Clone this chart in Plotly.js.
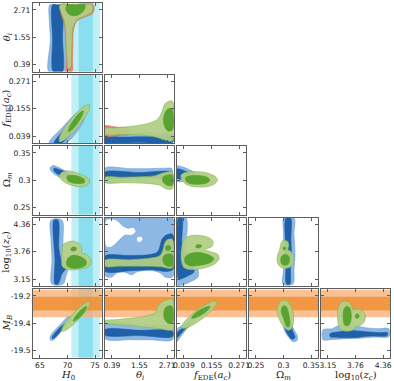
<!DOCTYPE html>
<html>
<head>
<meta charset="utf-8">
<script src="https://cdn.plot.ly/plotly-3.0.1.min.js"></script>
<style>
html, body { margin: 0; padding: 0; background: #fff; }
#corner { width: 394px; height: 381px; }
</style>
</head>
<body>
<div id="corner"></div>
<script>
// parameter ranges and ticks (ticks sit at 10%, 50%, 90% of each range)
var h0Range = [63.75, 76.25], h0Ticks = [65, 70, 75], h0Labels = ['65', '70', '75'];
var thetaRange = [0.1, 3.0], thetaTicks = [0.39, 1.55, 2.71], thetaLabels = ['0.39', '1.55', '2.71'];
var fedeRange = [0.01, 0.30], fedeTicks = [0.039, 0.155, 0.271], fedeLabels = ['0.039', '0.155', '0.271'];
var omRange = [0.2375, 0.3625], omTicks = [0.25, 0.3, 0.35], omLabels = ['0.25', '0.3', '0.35'];
var zcRange = [3.0, 4.51], zcTicks = [3.151, 3.755, 4.359], zcLabels = ['3.15', '3.76', '4.36'];
var mbRange = [-19.55, -19.15], mbTicks = [-19.51, -19.35, -19.19], mbLabels = ['-19.5', '-19.4', '-19.2'];

// external priors (SH0ES-like bands)
var h0Prior = [73.3, 1.3];
var mbPrior = [-19.235, 0.04];

// contour outlines, [x, y] in data units; b = blue, r = red, g = green; 2 = outer, 1 = inner
var h0_th_b2 = [[66.8,2.92],[68.2,2.92],[69.7,2.92],[69.9,1.86],[69.9,0.1],[68.2,0.1],[66.6,0.1],[66.9,1.44],[66.7,2.28]];
var h0_th_b1 = [[67.3,2.92],[68.2,2.92],[69.0,2.92],[69.1,1.5],[69.1,0.1],[68.2,0.1],[67.4,0.1],[67.3,1.5]];
var h0_th_r2 = [[68.64,2.92],[71.5,2.92],[74.71,2.92],[74.62,2.58],[73.17,2.41],[71.72,2.24],[71.09,1.86],[70.97,1.23],[70.91,0.6],[70.82,0.1],[69.91,0.1],[69.82,0.6],[69.64,1.44],[69.46,2.07],[68.82,2.54]];
var h0_th_g2 = [[68.64,2.92],[71.5,2.92],[74.44,2.92],[74.44,2.62],[73.17,2.45],[71.72,2.28],[70.97,1.95],[70.82,1.44],[70.73,0.81],[70.64,0.35],[70.45,0.23],[70.09,0.23],[69.91,0.6],[69.73,1.23],[69.64,1.86],[69.37,2.28],[68.82,2.62]];
var h0_th_g1 = [[69.91,2.92],[71.5,2.92],[73.17,2.92],[72.99,2.70],[71.9,2.49],[70.45,2.49],[69.73,2.70]];

var h0_fe_b2 = [[66.65,0.01],[69.73,0.01],[73.0,0.108],[73.17,0.151],[71.9,0.142],[69.0,0.074],[67.19,0.031]];
var h0_fe_b1 = [[67.55,0.01],[69.0,0.01],[71.36,0.087],[70.45,0.087],[68.1,0.031]];
var h0_fe_g2 = [[68.52,0.0155],[69.29,0.0202],[70.49,0.0428],[71.94,0.0803],[73.21,0.121],[73.92,0.153],[73.95,0.172],[73.17,0.168],[71.98,0.145],[70.53,0.108],[69.26,0.0667],[68.55,0.0347]];
var h0_fe_g1 = [[70.15,0.058],[71.14,0.074],[71.87,0.0956],[72.5,0.119],[72.86,0.146],[71.87,0.130],[71.14,0.108],[70.51,0.085]];

var h0_om_b2 = [[66.83,0.322],[67.37,0.327],[68.28,0.324],[69.37,0.318],[70.45,0.315],[71.36,0.309],[71.18,0.300],[69.73,0.302],[68.28,0.307],[67.19,0.315]];
var h0_om_b1 = [[67.55,0.322],[68.64,0.319],[69.73,0.315],[70.45,0.309],[69.55,0.306],[68.28,0.311],[67.55,0.317]];
var h0_om_g2 = [[68.55,0.309],[69.0,0.3148],[70.09,0.317],[71.54,0.314],[72.99,0.308],[73.9,0.302],[73.99,0.295],[73.53,0.291],[72.45,0.288],[71.0,0.290],[69.73,0.295],[68.82,0.302]];
var h0_om_g1 = [[69.91,0.307],[70.82,0.309],[72.09,0.307],[72.99,0.302],[73.08,0.296],[72.27,0.294],[71.0,0.295],[70.09,0.299]];

var h0_zc_b2 = [[67.01,4.45],[69.0,4.45],[69.19,4.028],[69.19,3.693],[69.73,3.536],[70.09,3.402],[69.73,3.224],[69.19,3.045],[67.19,3.045],[67.19,3.581],[67.01,4.028]];
var h0_zc_b1 = [[67.55,4.45],[68.28,4.45],[68.46,3.805],[69.0,3.536],[69.73,3.402],[69.0,3.268],[68.28,3.045],[67.74,3.045],[67.74,3.581]];
var h0_zc_g2 = [[69.24,3.916],[71.05,3.990],[72.57,3.878],[72.57,3.738],[73.48,3.693],[74.26,3.565],[73.95,3.431],[72.27,3.373],[70.15,3.358],[69.06,3.431],[68.95,3.655],[69.06,3.843]];
var h0_zc_g1 = [[69.91,3.581],[70.82,3.671],[72.27,3.648],[73.35,3.559],[73.35,3.469],[72.27,3.402],[70.82,3.391],[69.91,3.447]];
var h0_zc_g1b = [[70.64,3.827],[71.0,3.860],[71.54,3.849],[71.54,3.793],[71.0,3.771],[70.64,3.793]];

var h0_mb_b2 = [[66.83,-19.446],[67.01,-19.417],[67.92,-19.382],[69.0,-19.347],[70.09,-19.312],[70.82,-19.318],[69.73,-19.364],[68.64,-19.405],[67.74,-19.440],[67.19,-19.451]];
var h0_mb_b1 = [[67.19,-19.434],[67.92,-19.399],[69.0,-19.364],[69.73,-19.353],[69.0,-19.388],[68.1,-19.422],[67.37,-19.440]];
var h0_mb_g2 = [[68.95,-19.397],[69.6,-19.393],[70.69,-19.368],[72.04,-19.326],[73.24,-19.281],[73.97,-19.245],[74.08,-19.223],[73.43,-19.228],[72.34,-19.253],[70.99,-19.294],[69.78,-19.340],[69.06,-19.376]];
var h0_mb_g1 = [[71.05,-19.339],[71.89,-19.324],[72.54,-19.304],[73.11,-19.281],[73.48,-19.252],[72.64,-19.267],[71.99,-19.288],[71.42,-19.311]];

var th_fe_b2 = [[0.1,0.053],[0.8,0.054],[1.57,0.053],[2.3,0.051],[2.94,0.049],[2.94,0.011],[1.5,0.011],[0.1,0.011]];
var th_fe_b1 = [[0.1,0.034],[0.8,0.035],[1.57,0.036],[2.3,0.038],[2.94,0.040],[2.94,0.013],[1.5,0.012],[0.1,0.013]];
var th_fe_r2 = [[0.1,0.0824],[0.394,0.0803],[0.73,0.076],[1.1,0.074],[1.1,0.046],[0.73,0.042],[0.394,0.0377],[0.1,0.0377]];
var th_fe_g2 = [[0.1,0.0718],[0.52,0.0739],[1.36,0.0824],[1.99,0.0952],[2.326,0.112],[2.494,0.142],[2.62,0.176],[2.788,0.187],[2.935,0.187],[2.935,0.0185],[2.62,0.0228],[2.2,0.0356],[1.57,0.0441],[0.73,0.0462],[0.1,0.0462]];
var th_fe_g1 = [[2.578,0.125],[2.704,0.1506],[2.872,0.157],[2.935,0.1506],[2.935,0.0654],[2.746,0.0611],[2.599,0.0824],[2.557,0.1037]];

var th_om_b2 = [[0.1,0.322],[1.15,0.3212],[1.99,0.3212],[2.62,0.322],[2.914,0.3212],[2.914,0.3111],[2.41,0.3074],[1.57,0.3019],[0.73,0.2982],[0.1,0.2964]];
var th_om_b1 = [[0.1,0.3148],[1.57,0.314],[2.914,0.3148],[2.914,0.3056],[1.57,0.3056],[0.1,0.3047]];
var th_om_g2 = [[0.1,0.3056],[0.73,0.3056],[1.57,0.3065],[2.2,0.3083],[2.494,0.3129],[2.746,0.3157],[2.927,0.3157],[2.927,0.2844],[2.662,0.2844],[2.41,0.2909],[1.78,0.2945],[0.94,0.2955],[0.1,0.2964]];
var th_om_g1 = [[2.536,0.3056],[2.704,0.3093],[2.927,0.3093],[2.927,0.2909],[2.704,0.2909],[2.536,0.2973]];

var fe_om_b2 = [[0.01,0.3258],[0.0352,0.324],[0.0646,0.3185],[0.0898,0.3111],[0.0772,0.2982],[0.0436,0.2982],[0.01,0.2982]];
var fe_om_b1 = [[0.01,0.3203],[0.0394,0.3175],[0.0646,0.3111],[0.0478,0.3037],[0.01,0.3037]];
var fe_om_g2 = [[0.0268,0.3093],[0.0436,0.314],[0.0772,0.3157],[0.1192,0.3148],[0.1528,0.3111],[0.1738,0.3056],[0.1801,0.3001],[0.1654,0.2927],[0.1318,0.2881],[0.0856,0.2881],[0.052,0.2918],[0.031,0.3001]];
var fe_om_g1 = [[0.0478,0.3056],[0.0688,0.3083],[0.1066,0.3083],[0.136,0.3056],[0.1486,0.3001],[0.1318,0.2945],[0.094,0.2927],[0.0604,0.2945],[0.0457,0.3001]];

var th_zc_b2 = [[0.1,4.5],[1.5,4.5],[2.935,4.5],[2.935,3.201],[2.62,3.201],[2.41,3.291],[1.99,3.346],[1.444,3.313],[1.234,3.246],[0.94,3.302],[0.604,3.291],[0.394,3.201],[0.1,3.224]];
var th_zc_w1 = [[0.142,4.453],[0.436,4.475],[0.646,4.430],[0.814,4.341],[1.066,4.274],[1.276,4.296],[1.402,4.207],[1.234,4.118],[0.94,4.118],[0.73,4.028],[0.52,3.916],[0.31,3.849],[0.142,3.872]];
var th_zc_w2 = [[1.444,4.073],[1.612,4.095],[1.696,4.028],[1.57,3.961],[1.444,3.983]];
var th_zc_b1 = [[0.1,3.659],[1.15,3.671],[1.99,3.693],[2.326,3.760],[2.494,4.028],[2.662,4.118],[2.935,4.140],[2.935,3.358],[1.99,3.358],[1.15,3.335],[0.1,3.324]];
var th_zc_g2 = [[0.1,3.570],[1.15,3.581],[1.99,3.615],[2.41,3.671],[2.536,3.805],[2.62,3.961],[2.746,4.028],[2.935,4.028],[2.935,3.402],[2.41,3.425],[1.57,3.436],[0.73,3.436],[0.1,3.436]];
var th_zc_g1 = [[2.536,3.626],[2.662,3.693],[2.83,3.704],[2.935,3.693],[2.935,3.447],[2.746,3.436],[2.578,3.492]];
var th_zc_g1b = [[2.662,3.872],[2.788,3.894],[2.872,3.849],[2.788,3.782],[2.662,3.793]];

var fe_zc_b2 = [[0.01,4.5],[0.0478,4.5],[0.0499,4.028],[0.0478,3.805],[0.073,3.536],[0.0982,3.358],[0.0982,3.201],[0.0646,3.089],[0.031,3.022],[0.01,3.022]];
var fe_zc_b1 = [[0.0163,4.5],[0.031,4.5],[0.031,3.916],[0.0478,3.671],[0.073,3.469],[0.0814,3.313],[0.0562,3.224],[0.0268,3.156],[0.0163,3.156]];
var fe_zc_g2 = [[0.031,3.894],[0.0394,4.028],[0.0646,4.106],[0.0982,4.118],[0.1402,4.073],[0.1612,3.983],[0.157,3.872],[0.1276,3.805],[0.1486,3.760],[0.1822,3.693],[0.1864,3.603],[0.1696,3.492],[0.1276,3.402],[0.073,3.358],[0.0394,3.402],[0.0289,3.536],[0.0268,3.715]];
var fe_zc_g1 = [[0.0436,3.626],[0.0646,3.715],[0.1066,3.738],[0.1486,3.671],[0.1654,3.603],[0.1486,3.514],[0.1066,3.458],[0.0646,3.447],[0.0436,3.514]];
var fe_zc_g1b = [[0.0898,3.894],[0.1024,3.916],[0.115,3.883],[0.1024,3.838],[0.0898,3.849]];

var om_zc_b2 = [[0.3009,4.5],[0.319,4.5],[0.319,4.140],[0.3208,3.693],[0.319,3.358],[0.3171,3.045],[0.2991,3.045],[0.30,3.358],[0.2991,3.805],[0.30,4.140]];
var om_zc_b1 = [[0.3045,4.5],[0.3127,4.5],[0.3135,4.028],[0.3144,3.693],[0.3127,3.358],[0.3117,3.045],[0.3054,3.045],[0.3045,3.469],[0.3036,3.916]];
var om_zc_g2 = [[0.2945,3.894],[0.2972,3.983],[0.3027,4.006],[0.3081,3.972],[0.3099,3.894],[0.3081,3.805],[0.3135,3.760],[0.318,3.648],[0.318,3.514],[0.3135,3.425],[0.3045,3.391],[0.2954,3.413],[0.2891,3.514],[0.2891,3.671],[0.2927,3.782]];
var om_zc_g1 = [[0.2954,3.626],[0.2991,3.682],[0.3045,3.693],[0.3099,3.648],[0.3108,3.559],[0.3081,3.481],[0.3027,3.458],[0.2972,3.481],[0.2951,3.547]];
var om_zc_g1b = [[0.2991,3.838],[0.3018,3.860],[0.3045,3.838],[0.3027,3.798],[0.30,3.805]];

var th_mb_b2 = [[0.1,-19.353],[0.73,-19.347],[1.57,-19.359],[2.41,-19.364],[2.935,-19.364],[2.935,-19.446],[1.99,-19.446],[1.15,-19.446],[0.1,-19.440]];
var th_mb_b1 = [[0.1,-19.388],[1.57,-19.391],[2.935,-19.396],[2.935,-19.428],[1.57,-19.422],[0.1,-19.419]];
var th_mb_g2 = [[0.1,-19.335],[0.52,-19.330],[1.15,-19.321],[1.78,-19.309],[2.2,-19.289],[2.326,-19.248],[2.494,-19.225],[2.704,-19.211],[2.935,-19.211],[2.935,-19.388],[2.41,-19.382],[1.78,-19.373],[1.15,-19.364],[0.52,-19.356],[0.1,-19.350]];
var th_mb_g1 = [[2.578,-19.283],[2.662,-19.257],[2.83,-19.248],[2.935,-19.254],[2.935,-19.347],[2.746,-19.350],[2.599,-19.324]];

var fe_mb_b2 = [[0.01,-19.382],[0.031,-19.364],[0.0646,-19.330],[0.0898,-19.306],[0.0814,-19.341],[0.0478,-19.388],[0.0226,-19.434],[0.01,-19.457]];
var fe_mb_b1 = [[0.01,-19.405],[0.0352,-19.376],[0.0646,-19.344],[0.0478,-19.376],[0.0226,-19.417],[0.01,-19.434]];
var fe_mb_g2 = [[0.0297,-19.378],[0.0474,-19.378],[0.0774,-19.359],[0.1158,-19.324],[0.1509,-19.282],[0.1725,-19.247],[0.1767,-19.223],[0.1591,-19.223],[0.1291,-19.242],[0.0906,-19.277],[0.0556,-19.319],[0.0339,-19.354]];
var fe_mb_g1 = [[0.0717,-19.320],[0.0957,-19.313],[0.1158,-19.298],[0.1343,-19.280],[0.1486,-19.252],[0.1242,-19.259],[0.1045,-19.274],[0.086,-19.292]];

var om_mb_b2 = [[0.2991,-19.341],[0.3117,-19.341],[0.319,-19.388],[0.3253,-19.428],[0.3244,-19.451],[0.3171,-19.457],[0.3099,-19.434],[0.3027,-19.399]];
var om_mb_b1 = [[0.3027,-19.359],[0.3117,-19.364],[0.3171,-19.399],[0.3208,-19.434],[0.3153,-19.443],[0.3081,-19.417],[0.3036,-19.388]];
var om_mb_g2 = [[0.29,-19.248],[0.2945,-19.222],[0.3009,-19.214],[0.3072,-19.222],[0.3135,-19.248],[0.3171,-19.283],[0.3186,-19.324],[0.3171,-19.359],[0.3135,-19.385],[0.3081,-19.391],[0.3018,-19.376],[0.2954,-19.347],[0.29,-19.306],[0.2882,-19.277]];
var om_mb_g1 = [[0.2963,-19.266],[0.2999,-19.248],[0.3045,-19.251],[0.3081,-19.277],[0.3108,-19.318],[0.3117,-19.353],[0.3099,-19.370],[0.3063,-19.370],[0.3027,-19.347],[0.2991,-19.312],[0.2963,-19.289]];

var zc_mb_b2 = [[3.044,-19.388],[3.242,-19.382],[3.374,-19.364],[3.528,-19.353],[3.748,-19.364],[3.968,-19.376],[4.254,-19.382],[4.485,-19.382],[4.485,-19.428],[4.188,-19.431],[3.858,-19.437],[3.528,-19.440],[3.198,-19.446],[3.044,-19.446]];
var zc_mb_b1 = [[3.198,-19.411],[3.418,-19.399],[3.638,-19.393],[3.968,-19.399],[4.298,-19.405],[4.452,-19.405],[4.452,-19.422],[4.078,-19.425],[3.748,-19.434],[3.418,-19.434],[3.198,-19.428]];
var zc_mb_g2 = [[3.363,-19.318],[3.374,-19.266],[3.429,-19.231],[3.528,-19.219],[3.616,-19.228],[3.671,-19.248],[3.704,-19.272],[3.792,-19.266],[3.902,-19.275],[3.968,-19.301],[3.957,-19.335],[3.88,-19.359],[3.77,-19.370],[3.682,-19.391],[3.528,-19.396],[3.407,-19.379]];
var zc_mb_g1 = [[3.484,-19.306],[3.506,-19.266],[3.561,-19.251],[3.627,-19.260],[3.66,-19.295],[3.649,-19.341],[3.594,-19.364],[3.517,-19.359]];
var zc_mb_g1b = [[3.759,-19.301],[3.803,-19.295],[3.836,-19.309],[3.803,-19.321],[3.759,-19.318]];

var styles = {
    b2: {fill: 'rgb(141,184,228)', line: 'rgb(108,158,214)'},
    w:  {fill: '#ffffff', line: 'rgb(108,158,214)'},
    b1: {fill: 'rgb(31,96,168)', line: 'rgb(31,96,168)'},
    r2: {fill: 'rgb(231,128,108)', line: 'rgb(222,112,92)'},
    g2: {fill: 'rgba(178,206,132,0.93)', line: 'rgb(122,184,72)'},
    g1: {fill: 'rgba(82,160,42,0.93)', line: 'rgb(82,160,42)'}
};

var axes = {
    H0:    {range: h0Range, ticks: h0Ticks, labels: h0Labels, title: '<i>H</i><sub>0</sub>'},
    theta: {range: thetaRange, ticks: thetaTicks, labels: thetaLabels, title: '<i>θ</i><sub><i>i</i></sub>'},
    fede:  {range: fedeRange, ticks: fedeTicks, labels: fedeLabels, title: '<i>f</i><sub>EDE</sub>(<i>a</i><sub><i>c</i></sub>)'},
    om:    {range: omRange, ticks: omTicks, labels: omLabels, title: 'Ω<sub><i>m</i></sub>'},
    zc:    {range: zcRange, ticks: zcTicks, labels: zcLabels, title: 'log<sub>10</sub>(<i>z</i><sub><i>c</i></sub>)'},
    mb:    {range: mbRange, ticks: mbTicks, labels: mbLabels, title: '<i>M</i><sub><i>B</i></sub>'}
};
var colVars = ['H0', 'theta', 'fede', 'om', 'zc'];
var rowVars = ['theta', 'fede', 'om', 'zc', 'mb'];

var panels = [
    {r: 0, c: 0, layers: [['b2', h0_th_b2], ['b1', h0_th_b1], ['r2', h0_th_r2], ['g2', h0_th_g2], ['g1', h0_th_g1]]},
    {r: 1, c: 0, layers: [['b2', h0_fe_b2], ['b1', h0_fe_b1], ['g2', h0_fe_g2], ['g1', h0_fe_g1]]},
    {r: 1, c: 1, layers: [['b2', th_fe_b2], ['b1', th_fe_b1], ['r2', th_fe_r2], ['g2', th_fe_g2], ['g1', th_fe_g1]]},
    {r: 2, c: 0, layers: [['b2', h0_om_b2], ['b1', h0_om_b1], ['g2', h0_om_g2], ['g1', h0_om_g1]]},
    {r: 2, c: 1, layers: [['b2', th_om_b2], ['b1', th_om_b1], ['g2', th_om_g2], ['g1', th_om_g1]]},
    {r: 2, c: 2, layers: [['b2', fe_om_b2], ['b1', fe_om_b1], ['g2', fe_om_g2], ['g1', fe_om_g1]]},
    {r: 3, c: 0, layers: [['b2', h0_zc_b2], ['b1', h0_zc_b1], ['g2', h0_zc_g2], ['g1', h0_zc_g1], ['g1', h0_zc_g1b]]},
    {r: 3, c: 1, layers: [['b2', th_zc_b2], ['w', th_zc_w1], ['w', th_zc_w2], ['b1', th_zc_b1], ['g2', th_zc_g2], ['g1', th_zc_g1], ['g1', th_zc_g1b]]},
    {r: 3, c: 2, layers: [['b2', fe_zc_b2], ['b1', fe_zc_b1], ['g2', fe_zc_g2], ['g1', fe_zc_g1], ['g1', fe_zc_g1b]]},
    {r: 3, c: 3, layers: [['b2', om_zc_b2], ['b1', om_zc_b1], ['g2', om_zc_g2], ['g1', om_zc_g1], ['g1', om_zc_g1b]]},
    {r: 4, c: 0, layers: [['b2', h0_mb_b2], ['b1', h0_mb_b1], ['g2', h0_mb_g2], ['g1', h0_mb_g1]]},
    {r: 4, c: 1, layers: [['b2', th_mb_b2], ['b1', th_mb_b1], ['g2', th_mb_g2], ['g1', th_mb_g1]]},
    {r: 4, c: 2, layers: [['b2', fe_mb_b2], ['b1', fe_mb_b1], ['g2', fe_mb_g2], ['g1', fe_mb_g1]]},
    {r: 4, c: 3, layers: [['b2', om_mb_b2], ['b1', om_mb_b1], ['g2', om_mb_g2], ['g1', om_mb_g1]]},
    {r: 4, c: 4, layers: [['b2', zc_mb_b2], ['b1', zc_mb_b1], ['g2', zc_mb_g2], ['g1', zc_mb_g1], ['g1', zc_mb_g1b]]}
];

// figure geometry in pixels
var W = 394, H = 381;
function colDomain(c) { return [(33 + 72 * c) / W, (102 + 72 * c) / W]; }
function rowDomain(r) {
    var top = 3 + 71.5 * r;
    return [1 - (top + 68.5) / H, 1 - top / H];
}

var tickFont = {family: 'DejaVu Sans', size: 7.6, color: '#222'};
var titleFont = {family: 'DejaVu Serif', size: 10, color: '#222'};

function baseAxis() {
    return {
        showgrid: false, zeroline: false, showline: true, mirror: 'ticks',
        linecolor: '#5e5e5e', linewidth: 1,
        ticks: 'inside', ticklen: 3, tickwidth: 1, tickcolor: '#5e5e5e',
        tickfont: tickFont, fixedrange: true
    };
}

var data = [];
var layout = {
    width: W, height: H,
    margin: {l: 0, r: 0, t: 0, b: 0},
    paper_bgcolor: '#fff', plot_bgcolor: '#fff',
    showlegend: false,
    shapes: [],
    annotations: []
};

// axis titles as paper annotations so they sit where the reference puts them
colVars.forEach(function (v, c) {
    var d = colDomain(c);
    layout.annotations.push({
        xref: 'paper', yref: 'paper', x: (d[0] + d[1]) / 2, y: 1 - 375.5 / H,
        xanchor: 'center', yanchor: 'middle', showarrow: false,
        text: axes[v].title, font: titleFont
    });
});
rowVars.forEach(function (v, r) {
    var d = rowDomain(r);
    layout.annotations.push({
        xref: 'paper', yref: 'paper', x: 7 / W, y: (d[0] + d[1]) / 2,
        xanchor: 'center', yanchor: 'middle', textangle: -90, showarrow: false,
        text: axes[v].title, font: titleFont
    });
});

panels.forEach(function (p, i) {
    var n = i + 1;
    var sfx = n === 1 ? '' : String(n);
    var xv = axes[colVars[p.c]], yv = axes[rowVars[p.r]];

    var xa = baseAxis();
    xa.domain = colDomain(p.c);
    xa.anchor = 'y' + sfx;
    xa.range = xv.range;
    xa.tickvals = xv.ticks;
    xa.ticktext = xv.labels;
    xa.showticklabels = p.r === 4;
    layout['xaxis' + sfx] = xa;

    var ya = baseAxis();
    ya.domain = rowDomain(p.r);
    ya.anchor = 'x' + sfx;
    ya.range = yv.range;
    ya.tickvals = yv.ticks;
    ya.ticktext = yv.labels;
    ya.showticklabels = p.c === 0;
    layout['yaxis' + sfx] = ya;

    p.layers.forEach(function (layer) {
        var st = styles[layer[0]], pts = layer[1].concat([layer[1][0]]);
        data.push({
            type: 'scatter', mode: 'lines',
            x: pts.map(function (q) { return q[0]; }),
            y: pts.map(function (q) { return q[1]; }),
            xaxis: 'x' + sfx, yaxis: 'y' + sfx,
            fill: 'toself', fillcolor: st.fill,
            line: {color: st.line, width: 0.6, shape: 'spline', smoothing: 0.9},
            hoverinfo: 'skip', showlegend: false
        });
    });

    // H0 prior band in the H0 column
    if (p.c === 0) {
        [[2, 'rgb(192,240,246)'], [1, 'rgb(138,222,238)']].forEach(function (b) {
            layout.shapes.push({
                type: 'rect', layer: 'below', xref: 'x' + sfx, yref: 'y' + sfx + ' domain',
                x0: h0Prior[0] - b[0] * h0Prior[1], x1: h0Prior[0] + b[0] * h0Prior[1], y0: 0, y1: 1,
                fillcolor: b[1], line: {width: 0}
            });
        });
    }
    // M_B prior band in the M_B row
    if (p.r === 4) {
        [[2, 'rgba(247,176,118,0.78)'], [1, 'rgba(240,140,48,0.8)']].forEach(function (b) {
            layout.shapes.push({
                type: 'rect', layer: 'below', xref: 'x' + sfx + ' domain', yref: 'y' + sfx,
                x0: 0, x1: 1, y0: mbPrior[0] - b[0] * mbPrior[1], y1: mbPrior[0] + b[0] * mbPrior[1],
                fillcolor: b[1], line: {width: 0}
            });
        });
    }
});

Plotly.newPlot('corner', data, layout, {displayModeBar: false, staticPlot: true});
</script>
</body>
</html>
